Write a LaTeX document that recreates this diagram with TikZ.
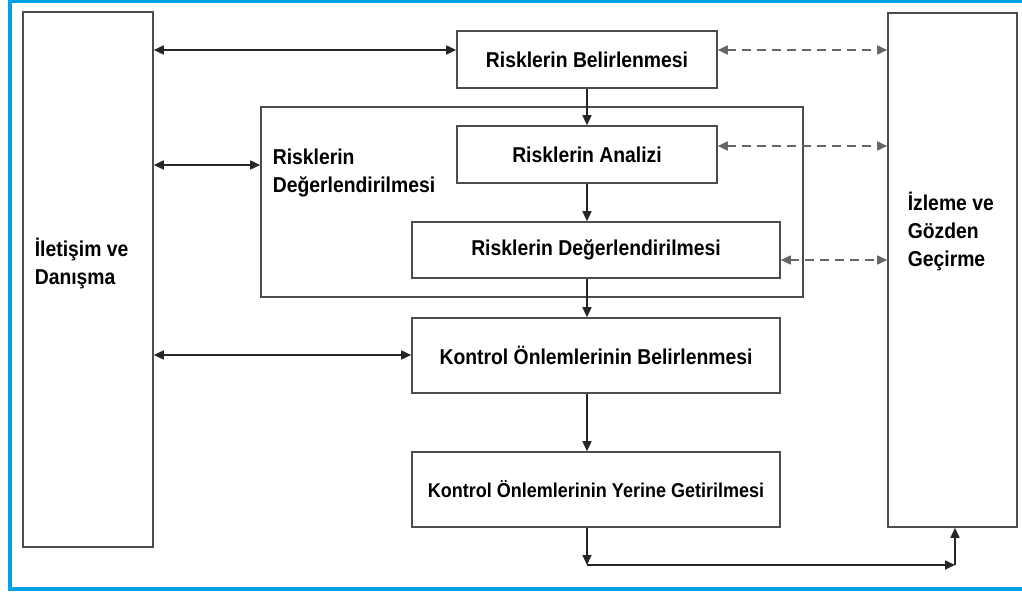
\documentclass[tikz,border=0pt]{standalone}
\usepackage{fontspec}
\setmainfont[FakeStretch=0.9]{Liberation Sans}
\usetikzlibrary{arrows.meta,positioning,calc}
\definecolor{cerceve}{RGB}{0,162,232}

\begin{document}
\begin{tikzpicture}[x=1pt,y=-1pt,line width=1.6pt,
    kutu/.style={draw=black!70,inner sep=0pt,font=\fontsize{21.5}{28}\selectfont\bfseries},
    yazi/.style={inner sep=0pt,font=\fontsize{21.5}{28}\selectfont\bfseries},
    ucok/.style={black!85,{Triangle[length=10pt,width=9pt]}-{Triangle[length=10pt,width=9pt]}},
    tekok/.style={black!85,-{Triangle[length=10pt,width=9pt]}},
    kesikok/.style={black!60,dash pattern=on 9pt off 6pt,{Triangle[length=10pt,width=9pt]}-{Triangle[length=10pt,width=9pt]}}]

        \useasboundingbox (0,0) rectangle (1022,593);
        \draw[cerceve,line width=3.5pt] (1022,1) -- (10,1) -- (10,589) -- (1022,589);

        % side boxes
        \node[kutu,minimum width=130pt,minimum height=535pt] (iletisim) at (88,279.5) {};
        \node[yazi,anchor=west,align=left] (iletisimyazi) at (34,264) {İletişim ve\\Danışma};
        \node[kutu,minimum width=129pt,minimum height=514pt] (izleme) at (952.5,270) {};
        \node[yazi,anchor=west,align=left] (izlemeyazi) at (907,232) {İzleme ve\\Gözden\\Geçirme};

        % middle column
        \node[kutu,minimum width=542pt,minimum height=190pt] (degerlendirme) at (532,202) {};
        \node[yazi,anchor=west,align=left] (degerlendirmeyazi) at (272,173) {Risklerin\\Değerlendirilmesi};
        \node[kutu,minimum width=260pt,minimum height=57pt] (belirle) at (587,59.5) {Risklerin Belirlenmesi};
        \node[kutu,fill=white,minimum width=260pt,minimum height=57pt] (analiz) at (587,154.5) {Risklerin Analizi};
        \node[kutu,fill=white,minimum width=368pt,minimum height=56pt] (degerlendir) at (596,250) {Risklerin Değerlendirilmesi};
        \node[kutu,minimum width=368pt,minimum height=75pt] (kontrolbel) at (596,355.5) {Kontrol Önlemlerinin Belirlenmesi};
        \node[kutu,minimum width=368pt,minimum height=75pt,font=\fontsize{20}{24}\selectfont\bfseries] (kontrolyer) at (596,489.5) {Kontrol Önlemlerinin Yerine Getirilmesi};

        \coordinate (altsol) at (587,565);
        \coordinate (altsag) at (955,565);

        % flow down
        \draw[tekok] (belirle.south) -- (analiz.north);
        \draw[tekok] (analiz.south) -- (analiz.south |- degerlendir.north);
        \draw[tekok] (analiz.south |- degerlendir.south) -- (analiz.south |- kontrolbel.north);
        \draw[tekok] (analiz.south |- kontrolbel.south) -- (analiz.south |- kontrolyer.north);
        \draw[tekok] (altsol |- kontrolyer.south) -- (altsol);
        \draw[tekok] (altsol) -- (altsag);
        \draw[tekok] (altsag) -- (altsag |- izleme.south);

        % communication
        \draw[ucok] ([yshift=9.5pt]belirle.west) -- ([yshift=9.5pt]belirle.west -| iletisim.east);
        \draw[ucok] ([yshift=37pt]degerlendirme.west) -- ([yshift=37pt]degerlendirme.west -| iletisim.east);
        \draw[ucok] ([yshift=0.5pt]kontrolbel.west) -- ([yshift=0.5pt]kontrolbel.west -| iletisim.east);

        % monitoring
        \draw[kesikok] ([yshift=9.5pt]belirle.east) -- ([yshift=9.5pt]belirle.east -| izleme.west);
        \draw[kesikok] ([yshift=8.5pt]analiz.east) -- ([yshift=8.5pt]analiz.east -| izleme.west);
        \draw[kesikok] ([yshift=-10pt]degerlendir.east) -- ([yshift=-10pt]degerlendir.east -| izleme.west);

      \end{tikzpicture}
\end{document}
